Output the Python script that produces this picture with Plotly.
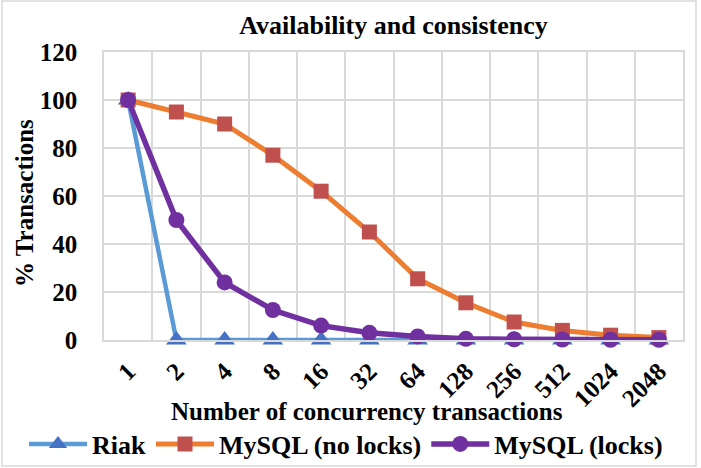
import plotly.graph_objects as go

categories = ["1", "2", "4", "8", "16", "32", "64", "128", "256", "512", "1024", "2048"]
riak = [100, 0, 0, 0, 0, 0, 0, 0, 0, 0, 0, 0]
mysql_no_locks = [100, 95, 90, 77, 62, 45, 25.5, 15.5, 7.5, 4, 2, 1]
mysql_locks = [100, 50, 24, 12.5, 6, 3, 1.5, 0.5, 0.3, 0.2, 0.1, 0.1]
y_ticks = [0, 20, 40, 60, 80, 100, 120]

F = "Liberation Serif"
W, H = 701, 468
L, R, T, B = 104, 18, 52, 128
pw, ph = W - L - R, H - T - B

def px(x):
    return (x - L) / pw

def py(y):
    return (H - B - y) / ph

fig = go.Figure()
fig.add_trace(go.Scatter(x=categories, y=riak, name="<b>Riak</b>", mode="lines+markers",
                         cliponaxis=False,
                         line=dict(color="#5B9BD5", width=4.5),
                         marker=dict(symbol="triangle-up", size=18, color="#4472C4")))
fig.add_trace(go.Scatter(x=categories, y=mysql_no_locks, name="<b>MySQL (no locks)</b>", mode="lines+markers",
                         cliponaxis=False,
                         line=dict(color="#ED7D31", width=5),
                         marker=dict(symbol="square", size=15, color="#C0504D")))
fig.add_trace(go.Scatter(x=categories, y=mysql_locks, name="<b>MySQL (locks)</b>", mode="lines+markers",
                         cliponaxis=False,
                         line=dict(color="#7030A0", width=5.5),
                         marker=dict(symbol="circle", size=16, color="#7030A0")))

fig.update_layout(
    width=W, height=H,
    margin=dict(l=L, r=R, t=T, b=B, autoexpand=False),
    paper_bgcolor="white", plot_bgcolor="white",
    font=dict(family=F, color="black", size=25),
    title=dict(text="<b>Availability and consistency</b>", x=0.5, xanchor="center", xref="paper",
               y=1 - 25 / H, yref="container", yanchor="middle", font=dict(size=26, family=F)),
    showlegend=True,
    legend=dict(orientation="h", x=px(24), xanchor="left", y=py(444), yanchor="middle",
                font=dict(size=26, family=F), itemwidth=58, bgcolor="rgba(0,0,0,0)",
                borderwidth=0),
    annotations=[
        dict(text="<b>Number of concurrency transactions</b>", x=px(367), y=py(411),
             xref="paper", yref="paper", showarrow=False, xanchor="center", yanchor="middle",
             font=dict(size=25, family=F)),
        dict(text="<b>% Transactions</b>", x=px(24), y=py(203), textangle=-90,
             xref="paper", yref="paper", showarrow=False, xanchor="center", yanchor="middle",
             font=dict(size=25, family=F)),
    ],
    shapes=[dict(type="rect", xref="paper", yref="paper", x0=px(2), x1=px(696), y0=py(466), y1=py(1),
                 line=dict(color="#D9D9D9", width=1.5), layer="below")],
)
fig.update_xaxes(type="category", tickson="boundaries", range=[-0.5, len(categories) - 0.5],
                 showgrid=True, gridcolor="#D9D9D9",
                 gridwidth=1.5, tickangle=-45, ticks="", showline=True, linecolor="#D9D9D9",
                 linewidth=1.5, mirror=True, automargin=False, ticklabelstandoff=5,
                 tickfont=dict(size=25, family=F),
                 ticktext=[f"<b>{c}</b>" for c in categories], tickvals=categories)
fig.update_yaxes(range=[0, 120], showgrid=True, gridcolor="#D9D9D9", gridwidth=1.5,
                 showline=True, linecolor="#D9D9D9", linewidth=1.5, mirror=True, zeroline=False,
                 tickvals=y_ticks, ticktext=[f"<b>{v}</b>" for v in y_ticks], automargin=False,
                 tickfont=dict(size=25, family=F), ticks="", ticklabelstandoff=20)

fig.write_html("out.html")
